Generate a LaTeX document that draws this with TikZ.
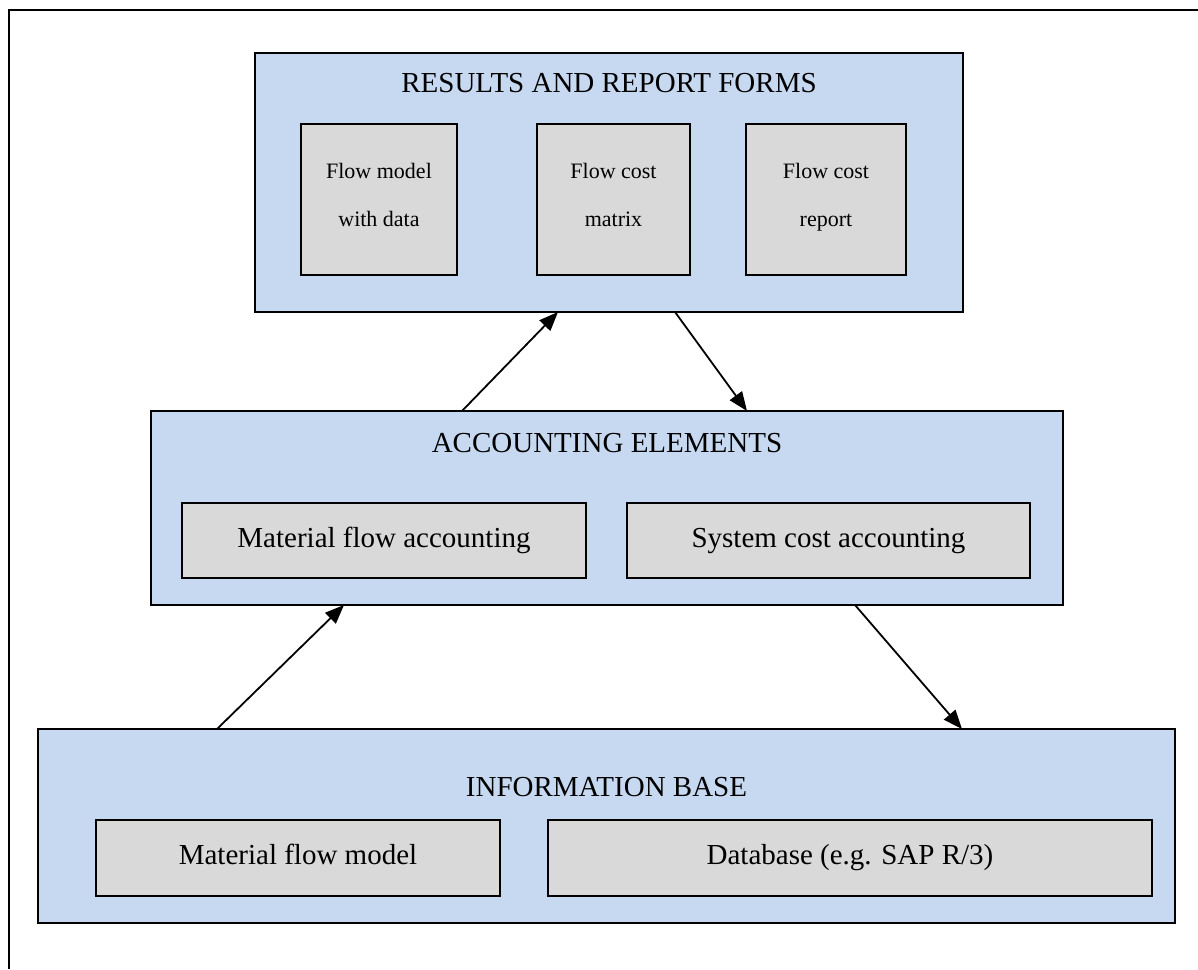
\documentclass[tikz,border=0pt]{standalone}
\usepackage{fontspec}
\setmainfont{Liberation Serif}
\usetikzlibrary{arrows.meta}
\definecolor{boxblue}{HTML}{C6D9F1}
\definecolor{boxgray}{HTML}{D9D9D9}
\begin{document}
\begin{tikzpicture}[x=1pt,y=-1pt,
  outerbox/.style={draw=black,line width=2.4pt,fill=boxblue,inner sep=0pt,outer sep=0pt,anchor=north west},
  innerbox/.style={draw=black,line width=2.4pt,fill=boxgray,inner sep=0pt,outer sep=0pt,anchor=north west,align=center,font=\fontsize{29}{35}\selectfont,text height=20pt,text depth=7pt},
  smallbox/.style={draw=black,line width=2.4pt,fill=boxgray,inner sep=0pt,outer sep=0pt,anchor=north west,align=center,font=\fontsize{22}{48}\selectfont},
  titletext/.style={inner sep=0pt,font=\fontsize{29}{35}\selectfont},
  conn/.style={line width=1.8pt,-{Triangle[length=19pt,width=15pt]}}]
\useasboundingbox (0,0) rectangle (1198,969);
\fill[white] (0,0) rectangle (1198,969);
% outer frame (cropped at right and bottom)
\draw[line width=2.2pt] (1198,10) -- (9,10) -- (9,969);
% top box
\node[outerbox,minimum width=708pt,minimum height=259pt] (top) at (255,53) {};
\node[titletext] (toptitle) at ([yshift=-30pt]top.north) {RESULTS AND REPORT FORMS};
\node[smallbox,minimum width=156pt,minimum height=151pt] (fm) at (301,124) {\strut Flow model\\\strut with data\\[-20pt]};
\node[smallbox,minimum width=153pt,minimum height=151pt] (fcm) at (537,124) {\strut Flow cost\\\strut matrix\\[-20pt]};
\node[smallbox,minimum width=160pt,minimum height=151pt] (fcr) at (746,124) {\strut Flow cost\\\strut report\\[-20pt]};
% middle box
\node[outerbox,minimum width=912pt,minimum height=194pt] (mid) at (151,411) {};
\node[titletext] (midtitle) at ([yshift=-32pt]mid.north) {ACCOUNTING ELEMENTS};
\node[innerbox,minimum width=404pt,minimum height=75pt] (mfa) at (182,503) {Material flow accounting};
\node[innerbox,minimum width=403pt,minimum height=75pt] (sca) at (627,503) {System cost accounting};
% bottom box
\node[outerbox,minimum width=1137pt,minimum height=194pt] (bot) at (38,729) {};
\node[titletext] (bottitle) at ([yshift=-58pt]bot.north) {INFORMATION BASE};
\node[innerbox,minimum width=404pt,minimum height=76pt] (mfm) at (96,820) {Material flow model};
\node[innerbox,minimum width=604pt,minimum height=76pt] (db) at (548,820) {Database (e.g. SAP R/3)};
% connectors
\draw[conn] ([xshift=311pt]mid.north west) -- ([xshift=303pt]top.south west);
\draw[conn] ([xshift=420pt]top.south west) -- ([xshift=596pt]mid.north west);
\draw[conn] ([xshift=179pt]bot.north west) -- ([xshift=193pt]mid.south west);
\draw[conn] ([xshift=704pt]mid.south west) -- ([xshift=924pt]bot.north west);
\end{tikzpicture}
\end{document}
